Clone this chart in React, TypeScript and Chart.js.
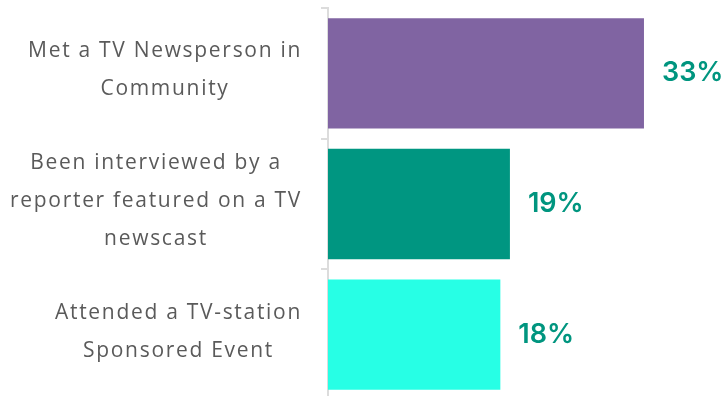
import React, { useEffect, useRef } from "react";
import { Chart, registerables } from "chart.js";

Chart.register(...registerables);

const categories: string[][] = [
  ["Met a TV Newsperson in", "Community"],
  ["Been interviewed by a", "reporter featured on a TV", "newscast"],
  ["Attended a TV-station", "Sponsored Event"],
];
const values: number[] = [33, 19, 18];
const barColors: string[] = ["#8064A2", "#009681", "#27FFE5"];
const xMin = 0;
const xMax = 40;

const LABEL_FONT = "400 21px 'Open Sans'";
const VALUE_FONT = "600 27px Inter";

const labelPlugin = {
  id: "customLabels",
  afterDatasetsDraw(chart: any) {
    const ctx = chart.ctx;
    const meta = chart.getDatasetMeta(0);
    const yScale = chart.scales.y;
    ctx.save();
    // value labels
    ctx.font = VALUE_FONT;
    (ctx as any).letterSpacing = "0px";
    ctx.fillStyle = "#00957F";
    ctx.textAlign = "left";
    ctx.textBaseline = "middle";
    meta.data.forEach((bar: any, i: number) => {
      ctx.fillText(values[i] + "%", bar.x + 18, bar.y);
    });
    // category labels
    ctx.font = LABEL_FONT;
    (ctx as any).letterSpacing = "1.7px";
    ctx.fillStyle = "#5a5a5a";
    ctx.textAlign = "left";
    const lineH = 38;
    const rightEdge = yScale.right - 26;
    categories.forEach((lines, i) => {
      const cy = yScale.getPixelForValue(i) - 3;
      const widths = lines.map((l) => ctx.measureText(l).width);
      const widest = Math.max(...widths);
      const cx = rightEdge - widest / 2;
      const startY = cy - ((lines.length - 1) * lineH) / 2;
      lines.forEach((l, j) => ctx.fillText(l, cx - widths[j] / 2, startY + j * lineH));
    });
    ctx.restore();
  },
};

export default function App() {
  const ref = useRef<HTMLCanvasElement>(null);
  useEffect(() => {
    const chart = new Chart(ref.current!, {
      type: "bar",
      data: {
        labels: categories.map((c) => c.join(" ")),
        datasets: [
          {
            data: values,
            backgroundColor: barColors,
            borderWidth: 0,
            barPercentage: 0.845,
            categoryPercentage: 1,
          },
        ],
      },
      options: {
        indexAxis: "y",
        animation: false,
        responsive: true,
        maintainAspectRatio: false,
        layout: { padding: { top: 8, right: 12, bottom: 0, left: 0 } },
        plugins: { legend: { display: false }, tooltip: { enabled: false } },
        scales: {
          x: { display: false, min: xMin, max: xMax },
          y: {
            afterFit: (s: any) => {
              s.width = 328;
            },
            grid: {
              drawOnChartArea: false,
              drawTicks: true,
              tickLength: 7,
              color: "#dcdcdc",
              lineWidth: 2,
            },
            border: { display: true, color: "#dcdcdc", width: 2 },
            ticks: { display: false },
          },
        },
      },
      plugins: [labelPlugin],
    });
    return () => chart.destroy();
  }, []);
  return (
    <div style={{ position: "fixed", left: 0, top: 0, width: 723, height: 400 }}>
      <canvas ref={ref} />
    </div>
  );
}
